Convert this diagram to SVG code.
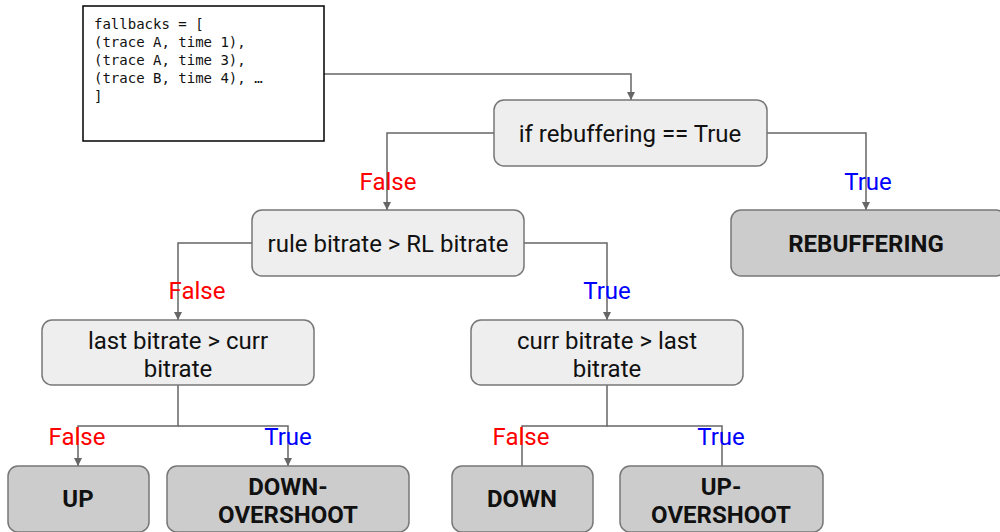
<svg xmlns="http://www.w3.org/2000/svg" width="1000" height="532" viewBox="0 0 1000 532">
<defs>
<marker id="arr" markerWidth="8" markerHeight="8" refX="8" refY="4" orient="auto" markerUnits="userSpaceOnUse" viewBox="0 0 8 8"><path d="M0,0 L8,4 L0,8 Z" fill="#666"/></marker>
<style>
.dec{fill:#eeeeee;stroke:#777;stroke-width:1.5}
.leaf{fill:#cccccc;stroke:#777;stroke-width:1.5}
.t{font-family:Roboto,"Liberation Sans",sans-serif;font-size:24px;fill:#111;text-anchor:middle}
.b{font-family:Roboto,"Liberation Sans",sans-serif;font-size:24px;font-weight:bold;fill:#111;text-anchor:middle}
.code{font-family:"DejaVu Sans Mono","Liberation Mono",monospace;font-size:14px;fill:#111}
.c{fill:none;stroke:#666;stroke-width:1.5}
.f{font-family:Roboto,"Liberation Sans",sans-serif;font-size:24px;fill:#ff0000;text-anchor:middle}
.tr{font-family:Roboto,"Liberation Sans",sans-serif;font-size:24px;fill:#0000ff;text-anchor:middle}
</style>
</defs>
<rect width="1000" height="532" fill="#fff"/>
<g id="connectors">
<path class="c" d="M324,74 H631 V100" marker-end="url(#arr)"/>
<path class="c" d="M494,133 H387 V210" marker-end="url(#arr)"/>
<path class="c" d="M767,133 H866 V210" marker-end="url(#arr)"/>
<path class="c" d="M252,243 H178 V320" marker-end="url(#arr)"/>
<path class="c" d="M524,243 H607 V320" marker-end="url(#arr)"/>
<path class="c" d="M178,385 V426 H78 V466" marker-end="url(#arr)"/>
<path class="c" d="M178,426 H288 V466" marker-end="url(#arr)"/>
<path class="c" d="M607,385 V426 H522 V466"/>
<path class="c" d="M607,426 H722 V466"/>
<text class="f" x="388" y="190">False</text>
<text class="tr" x="868" y="190">True</text>
<text class="f" x="197" y="299">False</text>
<text class="tr" x="607" y="299">True</text>
<text class="f" x="77" y="445">False</text>
<text class="tr" x="288" y="445">True</text>
<text class="f" x="521" y="445">False</text>
<text class="tr" x="721" y="445">True</text>
</g>
<g id="code">
<rect x="83" y="6" width="241" height="135" fill="#fff" stroke="#000" stroke-width="1.5"/>
<text class="code" x="94" y="29">fallbacks = [</text>
<text class="code" x="94" y="47">(trace A, time 1),</text>
<text class="code" x="94" y="65">(trace A, time 3),</text>
<text class="code" x="94" y="83">(trace B, time 4), …</text>
<text class="code" x="94" y="101">]</text>
</g>
<g id="rebuf-check">
<rect class="dec" x="494" y="100" width="273" height="66" rx="10"/>
<text class="t" x="630" y="141.5">if rebuffering == True</text>
</g>
<g id="rebuffering">
<rect class="leaf" x="731" y="210" width="275" height="66" rx="10"/>
<text class="b" x="866" y="251.5">REBUFFERING</text>
</g>
<g id="rule-check">
<rect class="dec" x="252" y="210" width="272" height="66" rx="10"/>
<text class="t" x="388" y="251.5">rule bitrate &gt; RL bitrate</text>
</g>
<g id="last-check">
<rect class="dec" x="42" y="320" width="272" height="65" rx="10"/>
<text class="t" x="178" y="348.5">last bitrate &gt; curr</text>
<text class="t" x="178" y="376.5">bitrate</text>
</g>
<g id="curr-check">
<rect class="dec" x="471" y="320" width="272" height="65" rx="10"/>
<text class="t" x="607" y="348.5">curr bitrate &gt; last</text>
<text class="t" x="607" y="376.5">bitrate</text>
</g>
<g id="up">
<rect class="leaf" x="8" y="466" width="141" height="66" rx="10"/>
<text class="b" x="78" y="506.5">UP</text>
</g>
<g id="down-overshoot">
<rect class="leaf" x="167" y="466" width="242" height="66" rx="10"/>
<text class="b" x="288" y="494.5">DOWN-</text>
<text class="b" x="288" y="522.5">OVERSHOOT</text>
</g>
<g id="down">
<rect class="leaf" x="452" y="466" width="141" height="66" rx="10"/>
<text class="b" x="522" y="506.5">DOWN</text>
</g>
<g id="up-overshoot">
<rect class="leaf" x="620" y="466" width="203" height="66" rx="10"/>
<text class="b" x="721" y="494.5">UP-</text>
<text class="b" x="721" y="522.5">OVERSHOOT</text>
</g>
</svg>
